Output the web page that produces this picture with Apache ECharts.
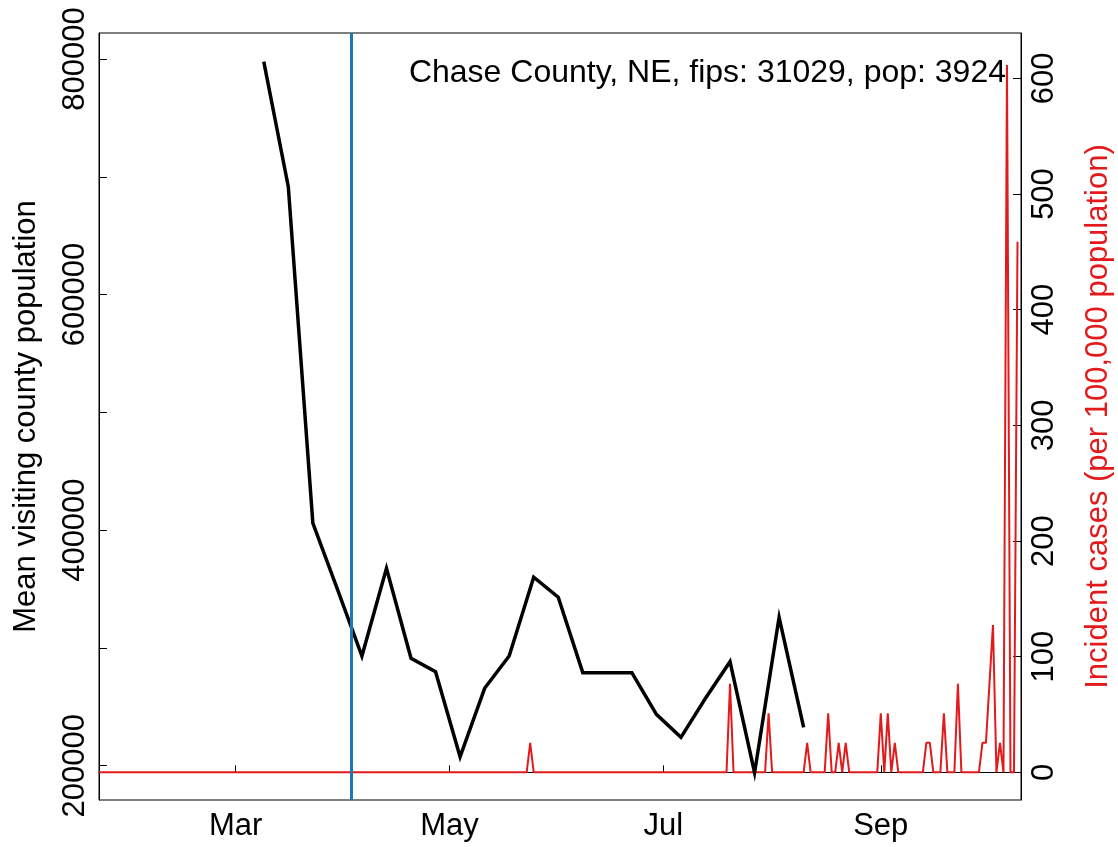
<!DOCTYPE html>
<html>
<head>
<meta charset="utf-8">
<script src="https://cdn.jsdelivr.net/npm/echarts@6/dist/echarts.min.js"></script>
<style>
html,body{margin:0;padding:0;background:#fff;}
#chart{width:1118px;height:847px;}
</style>
</head>
<body>
<div id="chart"></div>
<script>
// ---------- data ----------
const blackDates = ['2020-03-09','2020-03-16','2020-03-23','2020-03-30','2020-04-06','2020-04-13','2020-04-20','2020-04-27',
  '2020-05-04','2020-05-11','2020-05-18','2020-05-25','2020-06-01','2020-06-08','2020-06-15','2020-06-22','2020-06-29',
  '2020-07-06','2020-07-13','2020-07-20','2020-07-27','2020-08-03','2020-08-10'];
const blackValues = [797700, 691600, 406000, 350000, 293100, 367600, 291200, 279800,
  207600, 265700, 293100, 360000, 343000, 279000, 279000, 279000, 243600,
  224100, 257200, 288300, 194100, 326000, 232600];

// daily incident cases: first and last day of the series; all other days are 0
const redStart = '2020-01-22';
const redEnd = '2020-10-10';
const redCaseDates = ['2020-05-24','2020-07-20','2020-07-31','2020-08-11','2020-08-17','2020-08-20','2020-08-22',
  '2020-09-01','2020-09-03','2020-09-05','2020-09-14','2020-09-15','2020-09-19','2020-09-23',
  '2020-09-30','2020-10-01','2020-10-02','2020-10-03','2020-10-05','2020-10-07','2020-10-10'];
const redCaseValues = [25.5, 76.5, 51.0, 25.5, 51.0, 25.5, 25.5,
  51.0, 51.0, 25.5, 25.5, 25.5, 51.0, 76.5,
  25.5, 25.5, 76.5, 127.4, 25.5, 611.6, 458.7];

const interventionDate = '2020-04-03';

const xTickDates = ['2020-03-01','2020-05-01','2020-07-01','2020-09-01'];
const xTickLabels = ['Mar','May','Jul','Sep'];
const leftTicks = [200000,300000,400000,500000,600000,700000,800000];
const leftLabels = [200000,400000,600000,800000];
const rightTicks = [0,100,200,300,400,500,600];

const titleText = 'Chase County, NE, fips: 31029, pop: 3924';
const leftName = 'Mean visiting county population';
const rightName = 'Incident cases (per 100,000 population)';

// ---------- helpers ----------
function toTime(s){ const p = s.split('-').map(Number); return Date.UTC(p[0], p[1]-1, p[2]); }
function fmt(t){ const d = new Date(t); const m = d.getUTCMonth()+1, dd = d.getUTCDate(); return d.getUTCFullYear()+'-'+(m<10?'0':'')+m+'-'+(dd<10?'0':'')+dd; }
const DAY = 86400000;

const caseMap = {};
redCaseDates.forEach((d,i)=>{ caseMap[d] = redCaseValues[i]; });
const redData = [];
for (let t = toTime(redStart); t <= toTime(redEnd); t += DAY) {
  const k = fmt(t);
  redData.push([t, caseMap[k] !== undefined ? caseMap[k] : 0]);
}
const blackData = blackDates.map((d,i)=>[toTime(d), blackValues[i]]);
const xTickTimes = xTickDates.map(toTime);

const FONT = '"Liberation Sans", Arial, Helvetica, sans-serif';
const FS = 31;
const RED = '#E31A1C';
const BLUE = '#1F78B4';

const chart = echarts.init(document.getElementById('chart'), null, {renderer:'canvas'});
chart.setOption({
  animation: false,
  backgroundColor: '#fff',
  grid: { left: 99, right: 97, top: 33, bottom: 47, show: true, borderColor: '#000', borderWidth: 1, backgroundColor: 'transparent' },
  xAxis: {
    type: 'value',
    min: toTime('2020-01-22'),
    max: toTime('2020-10-11'),
    splitLine: { show: false },
    axisLine: { show: true, lineStyle: { color: '#000', width: 1 } },
    axisTick: { show: true, inside: true, length: 7, lineStyle: { color: '#000', width: 1 }, customValues: xTickTimes },
    axisLabel: {
      show: true, color: '#000', fontSize: FS, fontFamily: FONT, margin: 11,
      customValues: xTickTimes,
      formatter: function (v) { const i = xTickTimes.indexOf(v); return i >= 0 ? xTickLabels[i] : ''; }
    }
  },
  yAxis: [
    {
      type: 'value', position: 'left',
      min: 170880, max: 822060,
      splitLine: { show: false },
      axisLine: { show: true, lineStyle: { color: '#000', width: 1 } },
      axisTick: { show: true, inside: true, length: 8, lineStyle: { color: '#000', width: 1 }, customValues: leftTicks },
      axisLabel: { show: true, rotate: 90, color: '#000', fontSize: FS, fontFamily: FONT, margin: 8,
        customValues: leftLabels, formatter: function (v) { return String(v); } }
    },
    {
      type: 'value', position: 'right',
      min: -23.9, max: 639.2,
      splitLine: { show: false },
      axisLine: { show: true, lineStyle: { color: '#000', width: 1 } },
      axisTick: { show: true, inside: true, length: 8, lineStyle: { color: '#000', width: 1 }, customValues: rightTicks },
      axisLabel: { show: true, rotate: 90, color: '#000', fontSize: FS, fontFamily: FONT, margin: 8,
        customValues: rightTicks, formatter: function (v) { return String(v); } }
    }
  ],
  series: [
    {
      name: 'cases', type: 'line', yAxisIndex: 1, data: redData,
      showSymbol: false, symbol: 'none', z: 2,
      lineStyle: { color: RED, width: 2 }, itemStyle: { color: RED }
    },
    {
      name: 'visitors', type: 'line', yAxisIndex: 0, data: blackData,
      showSymbol: false, symbol: 'none', z: 3,
      lineStyle: { color: '#000', width: 3.5, join: 'miter' }, itemStyle: { color: '#000' }
    },
    {
      name: 'intervention', type: 'line', yAxisIndex: 0, data: [], z: 4,
      markLine: {
        silent: true, symbol: ['none','none'], label: { show: false },
        lineStyle: { color: BLUE, width: 3, type: 'solid' },
        data: [ { xAxis: toTime(interventionDate) } ]
      }
    }
  ],
  graphic: [
    { type: 'text', x: 26, y: 416.5, rotation: Math.PI/2,
      style: { text: leftName, fill: '#000', font: FS + 'px ' + FONT, textAlign: 'center', textVerticalAlign: 'middle' } },
    { type: 'text', x: 1098, y: 416.5, rotation: Math.PI/2,
      style: { text: rightName, fill: RED, font: FS + 'px ' + FONT, textAlign: 'center', textVerticalAlign: 'middle' } },
    { type: 'text', x: 1006, y: 73,
      style: { text: titleText, fill: '#000', font: '32px ' + FONT, textAlign: 'right', textVerticalAlign: 'middle' } }
  ]
});
</script>
</body>
</html>
